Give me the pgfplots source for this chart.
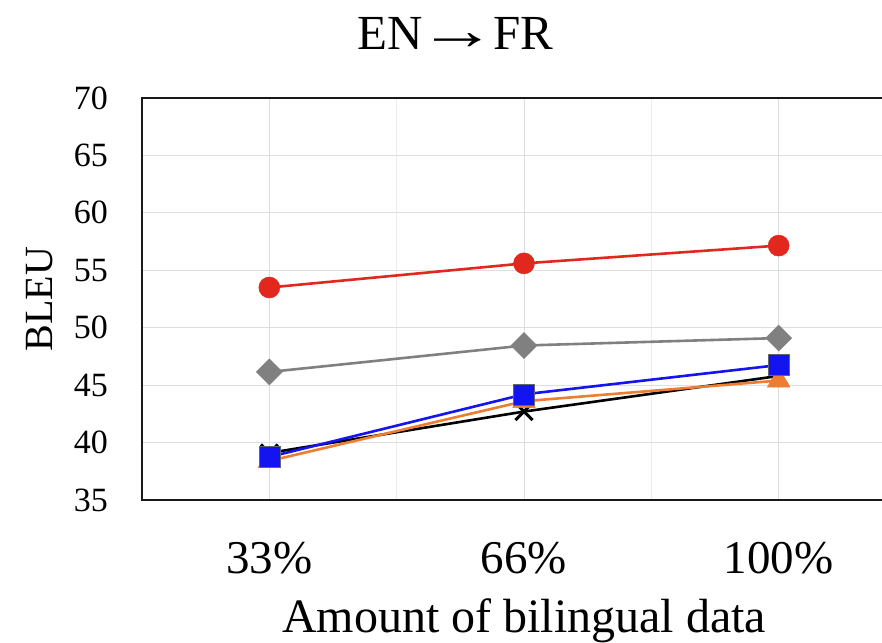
\documentclass[border=0pt]{standalone}
\usepackage{fontspec}
\setmainfont{Liberation Serif}
\usepackage{pgfplots}
\pgfplotsset{compat=1.18}
\definecolor{cred}{RGB}{226,40,30}
\definecolor{cgray}{RGB}{128,128,128}
\definecolor{cblue}{RGB}{20,20,240}
\definecolor{corange}{RGB}{237,125,49}
\definecolor{gridc}{RGB}{222,222,222}
\definecolor{gridm}{RGB}{236,236,236}
\begin{document}
\begin{tikzpicture}
\path[use as bounding box] (0,0) rectangle (882pt,642pt);
\begin{axis}[
  at={(142pt,142pt)}, anchor=south west,
  scale only axis, width=764pt, height=402pt,
  xmin=-0.5, xmax=2.5, ymin=35, ymax=70,
  xtick={0,1,2}, xticklabels={33\%,66\%,100\%},
  minor xtick={-0.5,0.5,1.5,2.5},
  ytick={35,40,...,70},
  major tick length=0pt, minor tick length=0pt,
  grid=both,
  major grid style={gridc, line width=1pt},
  minor grid style={gridm, line width=1pt},
  axis line style={black!90, line width=1.8pt},
  /pgf/number format/assume math mode=true,
  yticklabel style={font=\fontsize{34}{34}\selectfont, inner sep=0pt, xshift=-34pt},
  xticklabel style={font=\fontsize{47}{47}\selectfont, inner sep=0pt, yshift=-42pt},
  title={EN\hspace{-4pt}\scalebox{1.6}[1.15]{→}\hspace{-4pt}FR},
  title style={at={(axis description cs:0.41,1.105)}, anchor=base, inner sep=0pt, font=\fontsize{49}{49}\selectfont},
  xlabel={Amount of bilingual data},
  xlabel style={at={(axis description cs:0.5,-0.3284)}, anchor=base, inner sep=0pt, font=\fontsize{48}{48}\selectfont},
  ylabel={BLEU},
  ylabel style={at={(axis description cs:-0.1165,0.5)}, anchor=base, inner sep=0pt, font=\fontsize{40}{40}\selectfont},
  clip=false,
]
\addplot[cgray, line width=2.6pt, mark=square*, mark size=9.2pt, mark options={rotate=45, fill=cgray, draw=cgray, line width=0.5pt}]
  coordinates {(0,46.15) (1,48.45) (2,49.1)};
\addplot[cred, line width=2.6pt, mark=*, mark size=10.5pt, mark options={fill=cred, draw=cred, line width=0.5pt}]
  coordinates {(0,53.5) (1,55.6) (2,57.15)};
\addplot[black, line width=2.6pt, mark=x, mark size=12pt, mark options={line width=3pt}]
  coordinates {(0,39.1) (1,42.7) (2,45.8)};
\addplot[corange, line width=2.6pt, mark=triangle*, mark size=13pt, mark options={fill=corange, draw=corange, line width=0.5pt}]
  coordinates {(0,38.4) (1,43.6) (2,45.4)};
\addplot[cblue, line width=2.6pt, mark=square*, mark size=10.5pt, mark options={fill=cblue, draw=black!60, line width=0.6pt}]
  coordinates {(0,38.75) (1,44.2) (2,46.75)};
\end{axis}
\end{tikzpicture}
\end{document}
